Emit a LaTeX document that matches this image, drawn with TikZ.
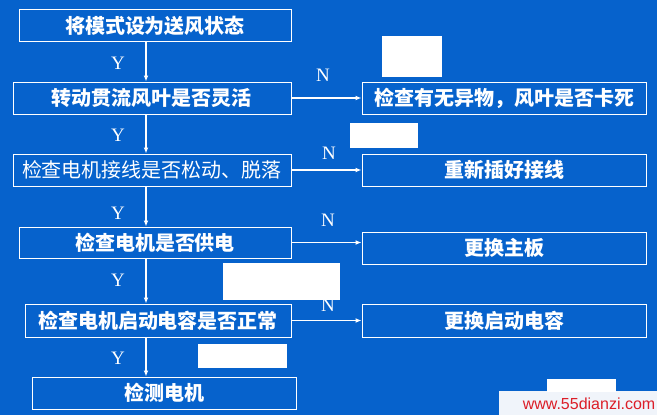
\documentclass[tikz,border=0pt]{standalone}
\usepackage{fontspec}
\setmainfont{Liberation Serif}
\setsansfont{Liberation Sans}
\newfontfamily\cjk{Noto Sans CJK SC}
\usepackage{xcolor}
\usetikzlibrary{arrows.meta,positioning,calc}

\definecolor{slideblue}{RGB}{6,98,204}
\definecolor{linkred}{RGB}{220,30,40}
\definecolor{stripgray}{RGB}{240,244,250}

\tikzset{
  stepbox/.style={draw=white, line width=1pt, minimum height=32pt, inner sep=0pt,
    text=white, font=\cjk\bfseries\fontsize{20}{22}\selectfont},
  flow/.style={draw=white, line width=1.6pt, -{Latex[length=6pt,width=5pt]}},
  yn/.style={text=white, inner sep=0pt, font=\fontsize{19}{21}\selectfont},
  blank/.style={fill=white, draw=none}
}

\begin{document}
\begin{tikzpicture}[x=1pt, y=-1pt]
    % Background
    \fill[slideblue] (0,0) rectangle (657,415);

    % Main column
    \node[stepbox, minimum width=272pt] (b1) at (155,25.5) {将模式设为送风状态};
    \node[stepbox, minimum width=278pt] (b2) at (152,98) {转动贯流风叶是否灵活};
    \node[stepbox, minimum width=278pt, font=\cjk\fontsize{20}{22}\selectfont] (b3) at (152,170) {检查电机接线是否松动、脱落};
    \node[stepbox, minimum width=272pt, minimum height=31pt] (b4) at (155,242.5) {检查电机是否供电};
    \node[stepbox, minimum width=266pt, minimum height=33pt] (b5) at (158,320.5) {检查电机启动电容是否正常};
    \node[stepbox, minimum width=264pt] (b6) at (164,393) {检测电机};

    % Fixes
    \node[stepbox, minimum width=284pt] (r1) at (504,98) {检查有无异物，风叶是否卡死};
    \node[stepbox, minimum width=284pt] (r2) at (504,170) {重新插好接线};
    \node[stepbox, minimum width=284pt] (r3) at (504,248) {更换主板};
    \node[stepbox, minimum width=284pt, minimum height=33pt] (r4) at (504,320.5) {更换启动电容};

    % Y arrows
    \coordinate (spine) at (146,0);
    \draw[flow] (b1.south -| spine) -- (b2.north -| spine);
    \draw[flow] (b2.south -| spine) -- (b3.north -| spine);
    \draw[flow] (b3.south -| spine) -- (b4.north -| spine);
    \draw[flow] (b4.south -| spine) -- (b5.north -| spine);
    \draw[flow] (b5.south -| spine) -- (b6.north -| spine);
    \node[yn] (y1) at (118,63) {Y};
    \node[yn] (y2) at (118,135) {Y};
    \node[yn] (y3) at (118,213) {Y};
    \node[yn] (y4) at (118,280) {Y};
    \node[yn] (y5) at (118,358) {Y};

    % N arrows
    \draw[flow] (b2.east) -- (b2.east -| r1.west);
    \draw[flow] (b3.east) -- (b3.east -| r2.west);
    \draw[flow] (b4.east) -- (b4.east -| r3.west);
    \draw[flow] (b5.east) -- (b5.east -| r4.west);
    \node[yn] (n1) at (323,75) {N};
    \node[yn] (n2) at (329,153) {N};
    \node[yn] (n3) at (328,220) {N};
    \node[yn] (n4) at (328,305) {N};

    % White patches
    \fill[blank] (382,36) rectangle (442,77);
    \fill[blank] (350,123) rectangle (418,148);
    \fill[blank] (223,263) rectangle (340,300);
    \fill[blank] (198,344) rectangle (287,368);

    % Site strip
    \fill[stripgray] (499,391) rectangle (657,415);
    \fill[blank] (547,379) rectangle (616,392);
    \node[text=linkred, inner sep=0pt, font=\sffamily\fontsize{16}{18}\selectfont] (site) at (589,404) {www.55dianzi.com};
\end{tikzpicture}
\end{document}
